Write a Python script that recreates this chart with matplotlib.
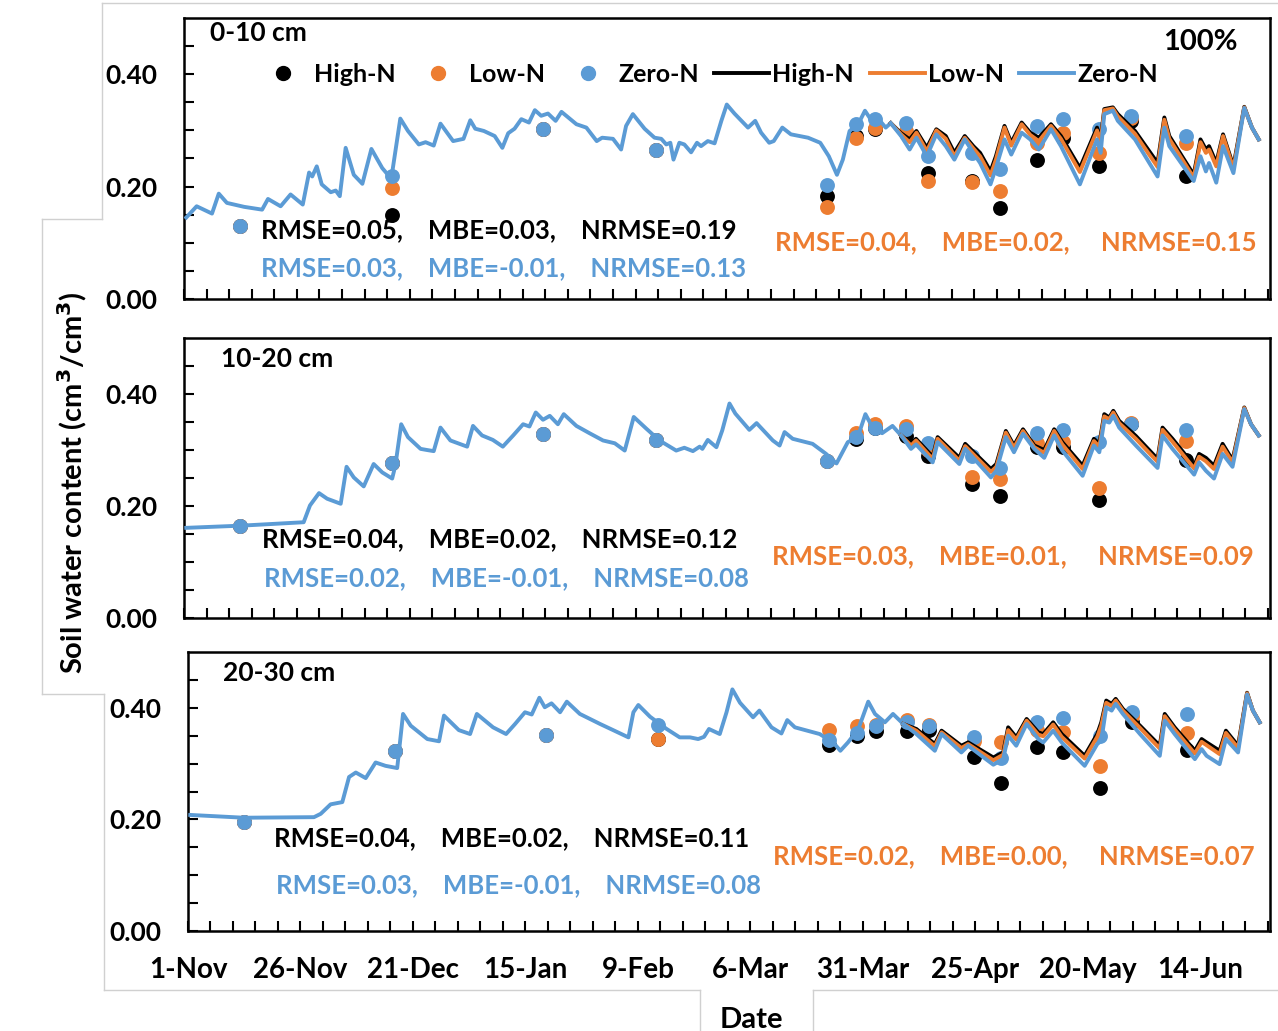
import matplotlib
matplotlib.use("Agg")
import matplotlib.pyplot as plt
from matplotlib.lines import Line2D

plt.rcParams['font.family'] = ['Lato', 'DejaVu Sans']
plt.rcParams['font.weight'] = 'bold'

# colours (Excel default palette)
c_high = "#000000"
c_low = "#ED7D31"
c_zero = "#5B9BD5"

# x axis: days since 1-Nov
tick_days = [0, 25, 50, 75, 100, 125, 150, 175, 200, 225]
tick_labels = ["1-Nov", "26-Nov", "21-Dec", "15-Jan", "9-Feb", "6-Mar", "31-Mar", "25-Apr", "20-May", "14-Jun"]

# ---------- simulated soil water, 0-10 cm ----------
p1_days = [0.5, 2.8, 6.2, 7.7, 9.5, 13.3, 17.3, 18.6, 21.4, 23.6, 26.3, 27.7, 28.4, 29.4, 30.5, 32.5, 33.6,
           34.5, 35.8, 37.6, 39.5, 41.5, 43.9, 45.9, 47.9, 49.6, 52, 53.5, 55.3, 56.8, 59.6, 61.9, 63.4, 64.5,
           66.4, 68.8, 70.5, 71.8, 73.2, 74.7, 76.4, 77.7, 79.1, 80.6, 82.3, 83.6, 86.9, 89.1, 91.4, 92.6, 95,
           96.8, 97.9, 99.4, 102, 104.2, 105.7, 106.8, 107.7, 108.4, 109.7, 110.8, 112.3, 113.6, 114.5, 116,
           117.5, 119, 120.2, 121.9, 124.9, 126.5, 127.8, 129.6, 130.6, 132.5, 134.4, 138.2, 140.9, 142.8,
           144.6, 145.9, 147.4, 149.3, 150.8, 152.3, 153.5, 155.4, 156.5]
p1_sim = [0.145, 0.165, 0.152, 0.1875, 0.171, 0.164, 0.159, 0.178, 0.165, 0.186, 0.168, 0.225, 0.218, 0.236,
          0.204, 0.19, 0.193, 0.183, 0.269, 0.221, 0.205, 0.267, 0.233, 0.214, 0.321, 0.299, 0.275, 0.279, 0.273,
          0.312, 0.281, 0.285, 0.318, 0.303, 0.299, 0.29, 0.269, 0.295, 0.303, 0.32, 0.314, 0.336, 0.326, 0.33,
          0.317, 0.333, 0.311, 0.305, 0.281, 0.287, 0.285, 0.266, 0.308, 0.329, 0.303, 0.287, 0.285, 0.275,
          0.278, 0.248, 0.278, 0.275, 0.261, 0.278, 0.272, 0.281, 0.277, 0.317, 0.346, 0.33, 0.305, 0.317,
          0.296, 0.278, 0.281, 0.305, 0.293, 0.287, 0.278, 0.254, 0.221, 0.248, 0.299, 0.311, 0.335, 0.317,
          0.323, 0.305, 0.313]
p1_late_days = [156.5, 158.8, 160.7, 162.2, 164.5, 166.6, 168.7, 170.6, 172.9, 174.8, 176.3, 178.6, 179.8,
                181.7, 183.2, 185.5, 187.4, 189.3, 192, 194.2, 198.4, 202.2, 203, 203.8, 205.7, 206.8, 210.6,
                215.6, 217.1, 218.2, 223.6, 225.1, 226.3, 227, 228.6, 230.1, 232.4, 234.8, 236.5, 238]
p1_high = [0.313, 0.295, 0.284, 0.299, 0.269, 0.302, 0.29, 0.26, 0.29, 0.272, 0.26, 0.227, 0.254, 0.308, 0.278,
           0.314, 0.296, 0.287, 0.311, 0.29, 0.233, 0.305, 0.284, 0.338, 0.341, 0.329, 0.299, 0.242, 0.323, 0.29,
           0.221, 0.284, 0.266, 0.272, 0.242, 0.293, 0.236, 0.342, 0.305, 0.284]
p1_low = [0.313, 0.293, 0.279, 0.296, 0.263, 0.3, 0.285, 0.254, 0.287, 0.268, 0.254, 0.22, 0.248, 0.305, 0.273,
          0.311, 0.292, 0.281, 0.308, 0.285, 0.226, 0.3, 0.279, 0.336, 0.339, 0.325, 0.294, 0.235, 0.319, 0.285,
          0.216, 0.279, 0.26, 0.266, 0.236, 0.29, 0.232, 0.341, 0.305, 0.284]
p1_zero = [0.313, 0.29, 0.266, 0.287, 0.254, 0.293, 0.272, 0.248, 0.284, 0.26, 0.242, 0.204, 0.233, 0.284, 0.257,
           0.296, 0.284, 0.266, 0.302, 0.272, 0.204, 0.284, 0.26, 0.329, 0.335, 0.317, 0.284, 0.218, 0.305, 0.272,
           0.21, 0.254, 0.227, 0.242, 0.207, 0.272, 0.224, 0.34, 0.305, 0.284]

# ---------- simulated soil water, 10-20 cm ----------
p2_days = [0.5, 12.9, 26.5, 27.9, 29.9, 31.7, 34.7, 36, 37.6, 39.8, 42, 43.9, 46.1, 46.8, 48.1, 49.6, 52.4, 53.8,
           55.3, 56.8, 59, 62.7, 64, 66, 68.4, 70.6, 72.9, 75.1, 76.5, 77.9, 79.5, 81, 82.8, 84.1, 86.9, 89.8,
           92.8, 95.4, 97.6, 99.6, 102.4, 105.3, 109, 110.8, 112.7, 114.2, 114.8, 116, 117.9, 119.2, 120.8,
           122.1, 125.2, 126.8, 130.4, 131.9, 133, 134.8, 139.2, 142.2, 144.5, 147, 149.2, 150.9, 152.5, 154.6,
           156.9, 158.8]
p2_sim = [0.161, 0.165, 0.171, 0.201, 0.223, 0.213, 0.204, 0.27, 0.251, 0.235, 0.275, 0.26, 0.249, 0.272, 0.346,
          0.323, 0.302, 0.3, 0.298, 0.34, 0.317, 0.306, 0.343, 0.326, 0.318, 0.306, 0.326, 0.346, 0.342, 0.367,
          0.354, 0.361, 0.346, 0.364, 0.343, 0.33, 0.317, 0.312, 0.299, 0.359, 0.338, 0.317, 0.299, 0.304, 0.298,
          0.306, 0.302, 0.318, 0.305, 0.335, 0.383, 0.365, 0.336, 0.348, 0.317, 0.308, 0.332, 0.32, 0.311, 0.293,
          0.276, 0.314, 0.323, 0.364, 0.34, 0.33, 0.343, 0.326]
p2_late_days = [158.8, 161, 162.1, 165.8, 166.9, 171.7, 173, 178.7, 179.9, 182, 183.8, 185.8, 188.3, 190.5,
                192.7, 194.5, 199, 201.5, 202.7, 203.8, 204.9, 205.8, 207.1, 210.8, 215.6, 216.7, 218.9, 223.7,
                224.8, 226.3, 228.1, 230, 232.2, 234.8, 236.3, 238]
p2_high = [0.326, 0.311, 0.32, 0.288, 0.323, 0.286, 0.311, 0.266, 0.275, 0.334, 0.308, 0.337, 0.308, 0.3, 0.337,
           0.314, 0.272, 0.32, 0.311, 0.364, 0.358, 0.37, 0.352, 0.325, 0.284, 0.34, 0.32, 0.272, 0.293, 0.286,
           0.272, 0.311, 0.282, 0.376, 0.346, 0.326]
p2_low = [0.326, 0.308, 0.317, 0.284, 0.32, 0.281, 0.307, 0.261, 0.27, 0.331, 0.304, 0.334, 0.305, 0.295, 0.334,
          0.31, 0.266, 0.316, 0.306, 0.36, 0.355, 0.367, 0.348, 0.32, 0.279, 0.336, 0.315, 0.267, 0.288, 0.28,
          0.266, 0.306, 0.278, 0.375, 0.346, 0.326]
p2_zero = [0.326, 0.302, 0.31, 0.278, 0.314, 0.275, 0.302, 0.251, 0.263, 0.323, 0.296, 0.329, 0.302, 0.286, 0.326,
           0.299, 0.254, 0.308, 0.296, 0.352, 0.349, 0.361, 0.34, 0.308, 0.268, 0.326, 0.302, 0.256, 0.278, 0.263,
           0.249, 0.293, 0.27, 0.373, 0.346, 0.326]

# ---------- simulated soil water, 20-30 cm ----------
p3_days = [0.5, 12.4, 28, 29.5, 31.7, 34.3, 35.8, 37.3, 39.5, 41.7, 43.9, 46.5, 47.8, 49.5, 53.2, 55.8, 56.9, 60.2,
           62.7, 64.2, 67.8, 70.7, 72.7, 74.9, 76.4, 78.1, 79.3, 80.8, 82.7, 84.2, 87.1, 91.6, 94.5, 97.9, 99,
           100.1, 102.7, 106.4, 109.3, 111.6, 113.4, 114.7, 115.8, 118.2, 119.7, 121, 122.7, 125.6, 127, 129.7,
           131.9, 133.2, 134.9, 140.4, 143.4, 145, 146.7, 149, 151.2, 152.7, 154.9, 156.7, 159]
p3_sim = [0.208, 0.203, 0.204, 0.21, 0.227, 0.231, 0.276, 0.284, 0.274, 0.302, 0.296, 0.292, 0.389, 0.368, 0.344,
          0.34, 0.386, 0.36, 0.353, 0.389, 0.365, 0.353, 0.371, 0.392, 0.388, 0.418, 0.401, 0.408, 0.392, 0.411,
          0.389, 0.371, 0.36, 0.347, 0.392, 0.405, 0.384, 0.362, 0.347, 0.347, 0.344, 0.348, 0.362, 0.353, 0.392,
          0.433, 0.409, 0.383, 0.395, 0.365, 0.354, 0.378, 0.365, 0.353, 0.338, 0.323, 0.338, 0.362, 0.411, 0.389,
          0.374, 0.389, 0.371]
p3_late_days = [159, 161.9, 166, 167.5, 171.9, 173.4, 179, 181.2, 182.3, 184.1, 186.4, 189, 190.1, 192.3, 194.2,
                199.3, 202.1, 203, 204.1, 205.3, 206.2, 207.8, 211.6, 216, 217.1, 219.3, 223.8, 225.3, 226.4,
                229.3, 230.7, 233.4, 235.4, 236.7, 238.2]
p3_high = [0.371, 0.362, 0.335, 0.359, 0.332, 0.338, 0.311, 0.32, 0.365, 0.347, 0.38, 0.356, 0.353, 0.374, 0.353,
           0.314, 0.353, 0.374, 0.413, 0.407, 0.416, 0.398, 0.368, 0.332, 0.389, 0.365, 0.323, 0.344, 0.338, 0.323,
           0.359, 0.332, 0.427, 0.395, 0.374]
p3_low = [0.371, 0.359, 0.331, 0.356, 0.328, 0.335, 0.306, 0.316, 0.36, 0.343, 0.377, 0.352, 0.349, 0.37, 0.348,
          0.309, 0.348, 0.368, 0.409, 0.403, 0.413, 0.395, 0.364, 0.327, 0.385, 0.361, 0.318, 0.339, 0.333, 0.317,
          0.355, 0.328, 0.426, 0.395, 0.374]
p3_zero = [0.371, 0.353, 0.323, 0.353, 0.32, 0.332, 0.298, 0.308, 0.35, 0.332, 0.371, 0.344, 0.338, 0.359, 0.338,
           0.296, 0.335, 0.341, 0.401, 0.395, 0.407, 0.389, 0.353, 0.314, 0.377, 0.353, 0.308, 0.326, 0.314, 0.299,
           0.344, 0.32, 0.424, 0.395, 0.374]

# ---------- observed soil water ----------
obs_days = [12.5, 46, 79.5, 104.5, 142.5, 148.8, 153, 159.8, 164.8, 174.6, 180.8, 188.8, 194.6, 202.7, 209.8, 222]
o1_high = [0.13, 0.15, 0.302, 0.266, 0.183, 0.29, 0.302, 0.295, 0.224, 0.21, 0.162, 0.248, 0.287, 0.236, 0.317, 0.218]
o1_low = [0.13, 0.198, 0.302, 0.266, 0.164, 0.287, 0.305, 0.299, 0.21, 0.209, 0.193, 0.278, 0.296, 0.259, 0.322, 0.278]
o1_zero = [0.13, 0.218, 0.302, 0.266, 0.202, 0.311, 0.321, 0.313, 0.254, 0.26, 0.231, 0.308, 0.321, 0.302, 0.326, 0.29]
o2_high = [0.165, 0.276, 0.329, 0.318, 0.28, 0.32, 0.34, 0.325, 0.29, 0.24, 0.217, 0.306, 0.306, 0.21, 0.346, 0.282]
o2_low = [0.165, 0.276, 0.329, 0.318, 0.28, 0.331, 0.346, 0.343, 0.3, 0.251, 0.249, 0.312, 0.314, 0.233, 0.349, 0.316]
o2_zero = [0.165, 0.276, 0.329, 0.318, 0.281, 0.324, 0.34, 0.337, 0.312, 0.29, 0.268, 0.331, 0.336, 0.314, 0.346, 0.335]
o3_high = [0.195, 0.323, 0.352, 0.344, 0.334, 0.35, 0.359, 0.358, 0.36, 0.311, 0.265, 0.329, 0.32, 0.257, 0.374, 0.324]
o3_low = [0.195, 0.323, 0.352, 0.344, 0.36, 0.368, 0.37, 0.378, 0.37, 0.34, 0.338, 0.36, 0.356, 0.296, 0.385, 0.354]
o3_zero = [0.195, 0.323, 0.352, 0.37, 0.342, 0.354, 0.368, 0.374, 0.368, 0.347, 0.31, 0.374, 0.382, 0.35, 0.392, 0.389]

depths = ["0-10 cm", "10-20 cm", "20-30 cm"]
gap = "    "
stats_high = ["RMSE=0.05," + gap + "MBE=0.03," + gap + "NRMSE=0.19",
              "RMSE=0.04," + gap + "MBE=0.02," + gap + "NRMSE=0.12",
              "RMSE=0.04," + gap + "MBE=0.02," + gap + "NRMSE=0.11"]
stats_zero = ["RMSE=0.03," + gap + "MBE=-0.01," + gap + "NRMSE=0.13",
              "RMSE=0.02," + gap + "MBE=-0.01," + gap + "NRMSE=0.08",
              "RMSE=0.03," + gap + "MBE=-0.01," + gap + "NRMSE=0.08"]
stats_low = ["RMSE=0.04," + gap + "MBE=0.02," + gap + " NRMSE=0.15",
             "RMSE=0.03," + gap + "MBE=0.01," + gap + " NRMSE=0.09",
             "RMSE=0.02," + gap + "MBE=0.00," + gap + " NRMSE=0.07"]

panels = [
    (p1_days, p1_sim, p1_late_days, p1_high, p1_low, p1_zero, o1_high, o1_low, o1_zero),
    (p2_days, p2_sim, p2_late_days, p2_high, p2_low, p2_zero, o2_high, o2_low, o2_zero),
    (p3_days, p3_sim, p3_late_days, p3_high, p3_low, p3_zero, o3_high, o3_low, o3_zero),
]

W, H = 1278, 1031
fig = plt.figure(figsize=(W / 100, H / 100), dpi=100)

# panel boxes in pixels: left, top, right, bottom
boxes = [(184, 18, 1270, 299), (184, 338, 1270, 618), (188, 652, 1270, 931)]
# text positions (axes fraction)
depth_pos = [(0.024, 0.947), (0.034, 0.925), (0.032, 0.925)]
high_pos = [(0.071, 0.246), (0.072, 0.282), (0.0795, 0.333)]
zero_pos = [(0.071, 0.110), (0.074, 0.143), (0.081, 0.165)]
low_pos = [(0.544, 0.203), (0.541, 0.221), (0.541, 0.269)]

fs_tick = 19
fs_stat = 18.5
lw = 2.8
axes = []
for i, (l, t, r, b) in enumerate(boxes):
    ax = fig.add_axes([l / W, 1 - b / H, (r - l) / W, (b - t) / H])
    axes.append(ax)
    days, sim, late_days, hi, lo, ze, ohi, olo, oze = panels[i]

    ax.scatter(obs_days, ohi, s=115, color=c_high, zorder=2, linewidths=0)
    ax.scatter(obs_days, olo, s=115, color=c_low, zorder=2, linewidths=0)
    ax.scatter(obs_days, oze, s=115, color=c_zero, zorder=2, linewidths=0)

    ax.plot(days, sim, color=c_zero, lw=lw, zorder=3, solid_joinstyle="round")
    ax.plot(late_days, hi, color=c_high, lw=lw, zorder=3, solid_joinstyle="round")
    ax.plot(late_days, lo, color=c_low, lw=lw, zorder=3, solid_joinstyle="round")
    ax.plot(late_days, ze, color=c_zero, lw=lw, zorder=3, solid_joinstyle="round")

    ax.set_xlim(0, 240.5)
    ax.set_ylim(0, 0.5)
    ax.set_xticks(range(0, 241, 5))
    ax.set_yticks([k * 0.05 for k in range(10)])
    ax.set_yticklabels(["%.2f" % (k * 0.05) if k % 4 == 0 else "" for k in range(10)],
                       fontsize=fs_tick, fontweight="bold")
    ax.tick_params(axis="both", direction="in", length=7, width=1.5, color="black")
    ax.tick_params(axis="y", pad=19)
    if i == 2:
        ax.set_xticklabels([tick_labels[tick_days.index(d)] if d in tick_days else "" for d in range(0, 241, 5)],
                           fontsize=fs_tick + 1, fontweight="bold")
        ax.tick_params(axis="x", pad=19)
    else:
        ax.set_xticklabels([])
    for sp in ax.spines.values():
        sp.set_linewidth(1.8)

    ax.text(*depth_pos[i], depths[i], transform=ax.transAxes, fontsize=fs_tick, fontweight="bold", va="center")
    ax.text(*high_pos[i], stats_high[i], transform=ax.transAxes, fontsize=fs_stat, fontweight="bold",
            color=c_high, va="center")
    ax.text(*zero_pos[i], stats_zero[i], transform=ax.transAxes, fontsize=fs_stat, fontweight="bold",
            color=c_zero, va="center")
    ax.text(*low_pos[i], stats_low[i], transform=ax.transAxes, fontsize=fs_stat, fontweight="bold",
            color=c_low, va="center")

axes[0].text(0.97, 0.915, "100%", transform=axes[0].transAxes, fontsize=21, fontweight="bold",
             ha="right", va="center")

handles = [
    Line2D([], [], marker="o", ls="none", color=c_high, markersize=10),
    Line2D([], [], marker="o", ls="none", color=c_low, markersize=10),
    Line2D([], [], marker="o", ls="none", color=c_zero, markersize=10),
    Line2D([], [], color=c_high, lw=lw),
    Line2D([], [], color=c_low, lw=lw),
    Line2D([], [], color=c_zero, lw=lw),
]
names = ["High-N", "Low-N", "Zero-N", "High-N", "Low-N", "Zero-N"]
axes[0].legend(handles, names, ncol=6, loc="center left", bbox_to_anchor=(0.066, 0.80), frameon=False,
               prop={"size": 18, "weight": "bold"}, handlelength=2.2, handletextpad=0.12, columnspacing=0.62,
               borderpad=0, borderaxespad=0)

fig.text(72 / W, 1 - 483 / H, "Soil water content (cm$^3$/cm$^3$)", rotation=90, fontsize=21,
         fontweight="bold", ha="center", va="center")
fig.text(751 / W, 1 - 1020 / H, "Date", fontsize=21, fontweight="bold", ha="center", va="center")

# grey chart-area outlines (Excel style)
grey = "#d0d0d0"
outline = [
    ([102, 1278], [3, 3]),
    ([102, 102], [3, 219]),
    ([42, 102], [219, 219]),
    ([42, 42], [219, 694]),
    ([42, 104], [694, 694]),
    ([104, 104], [694, 990]),
    ([104, 700], [990, 990]),
    ([700, 700], [990, 1031]),
    ([813, 813], [990, 1031]),
    ([813, 1278], [990, 990]),
]
for xs, ys in outline:
    fig.add_artist(Line2D([x / W for x in xs], [1 - y / H for y in ys], color=grey, lw=1))

plt.savefig("out.png", dpi=100)
